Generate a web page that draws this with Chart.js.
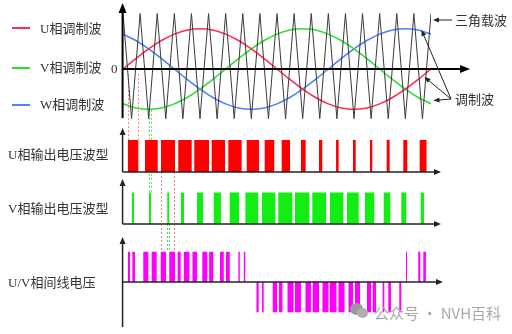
<!DOCTYPE html>
<html>
<head>
<meta charset="utf-8">
<script src="https://cdn.jsdelivr.net/npm/chart.js@4/dist/chart.umd.min.js"></script>
<style>
  body { margin: 0; background: #fff; }
  #wrap { position: relative; width: 512px; height: 334px; overflow: hidden; background: #fff; }
  #chart { position: absolute; left: 0; top: 0; }
  .lbl { position: absolute; font-family: "Liberation Serif", "Noto Sans CJK SC", serif; font-size: 13px;
         line-height: 20px; color: #333; white-space: nowrap; }
  .key { position: absolute; height: 0; width: 18px; border-top: 2px solid; }
  .mark { position: absolute; font-family: "Noto Sans CJK SC", sans-serif; font-size: 15px; line-height: 20px;
          color: #a8a8a8; white-space: nowrap; }
  .dot { position: absolute; border-radius: 50%; background: #9a9a9a; }
</style>
</head>
<body>
<div id="wrap">
  <canvas id="chart" width="512" height="334"></canvas>

  <div class="key" style="left:12px; top:27px; border-color:#ff2a55;"></div>
  <div class="lbl" style="left:40px; top:19px;">U相调制波</div>
  <div class="key" style="left:12px; top:67px; border-color:#2ee02e;"></div>
  <div class="lbl" style="left:40px; top:58px;">V相调制波</div>
  <div class="key" style="left:12px; top:104px; border-color:#4f7fff;"></div>
  <div class="lbl" style="left:40px; top:95px;">W相调制波</div>
  <div class="lbl" style="left:111px; top:59px;">0</div>

  <div class="lbl" style="left:455px; top:11px;">三角载波</div>
  <div class="lbl" style="left:455px; top:90px;">调制波</div>

  <div class="lbl" style="left:8px; top:145px;">U相输出电压波型</div>
  <div class="lbl" style="left:8px; top:199px;">V相输出电压波型</div>
  <div class="lbl" style="left:8px; top:273px;">U/V相间线电压</div>

  <div class="dot" style="left:350px; top:303px; width:13px; height:12px;"></div>
  <div class="dot" style="left:357px; top:308px; width:11px; height:10px; background:#b0b0b0;"></div>
  <div class="mark" style="left:374px; top:303px;">公众号 · NVH百科</div>
</div>

<script>
// Angles along the fundamental (degrees), shared by all panels
const waveAngles = [0, 15, 30, 45, 60, 75, 90, 105, 120, 135, 150, 165, 180,
                    195, 210, 225, 240, 255, 270, 285, 300, 315, 330, 345, 360];

// Modulating waves (in carrier units)
const uWave = [0, 0.199, 0.385, 0.544, 0.667, 0.744, 0.77, 0.744, 0.667, 0.544, 0.385, 0.199, 0,
               -0.199, -0.385, -0.544, -0.667, -0.744, -0.77, -0.744, -0.667, -0.544, -0.385, -0.199, 0];
const vWave = [-0.667, -0.744, -0.77, -0.744, -0.667, -0.544, -0.385, -0.199, 0, 0.199, 0.385, 0.544, 0.667,
               0.744, 0.77, 0.744, 0.667, 0.544, 0.385, 0.199, 0, -0.199, -0.385, -0.544, -0.667];
const wWave = [0.667, 0.544, 0.385, 0.199, 0, -0.199, -0.385, -0.544, -0.667, -0.744, -0.77, -0.744, -0.667,
               -0.544, -0.385, -0.199, 0, 0.199, 0.385, 0.544, 0.667, 0.744, 0.77, 0.744, 0.667];

// Triangle carrier: turning points
const carrierAngles = [0, 10, 20, 30, 40, 50, 60, 70, 80, 90, 100, 110, 120, 130, 140, 150, 160, 170, 180,
                       190, 200, 210, 220, 230, 240, 250, 260, 270, 280, 290, 300, 310, 320, 330, 340, 350, 360];
const carrierLevels = [1.06, -0.95, 1.06, -0.95, 1.06, -0.95, 1.06, -0.95, 1.06, -0.95, 1.06, -0.95, 1.06,
                       -0.95, 1.06, -0.95, 1.06, -0.95, 1.06, -0.95, 1.06, -0.95, 1.06, -0.95, 1.06, -0.95,
                       1.06, -0.95, 1.06, -0.95, 1.06, -0.95, 1.06, -0.95, 1.06, -0.95, 1.06];

// Output pulses [start, end] in degrees
const uPulses = [[5.5, 17.9], [25.7, 40.6], [44.4, 60.8], [64.6, 80.3], [83.3, 100.5], [103.7, 119.3],
                 [123.1, 138.7], [144.6, 159], [165.6, 176.8], [185.5, 195.2], [208, 213.5], [229.1, 232.9],
                 [249, 252.1], [268.8, 272], [288.7, 291.4], [308.2, 311.7], [327.6, 332.3], [346.8, 355]];
const vPulses = [[10.2, 12.9], [30.4, 32.7], [51.8, 54.1], [67.8, 71.3], [86.5, 93.5], [106, 114.5],
                 [124.7, 135.6], [143, 158.1], [162.5, 178], [181.5, 197.9], [201, 217.7], [221.3, 237.3],
                 [241.9, 257.5], [261.8, 275.5], [282.8, 293.7], [304.7, 312.4], [325.3, 331.1], [348, 351.8]];
const uvPositive = [[5.5, 8.2], [10.9, 14], [23.7, 29.6], [33.5, 39.4], [44.1, 50.3], [54.1, 60.8],
                    [63.9, 67.4], [71.1, 77.7], [81.2, 86.5], [92.7, 98.5], [100.7, 105.5], [113.4, 117.8],
                    [120.4, 124.8], [134.8, 136.5], [141.2, 142.9], [330.8, 332], [345.1, 347.5], [351, 354.1]];
const uvNegative = [[156, 158.6], [162.5, 164.4], [175, 180], [182.3, 186.4], [192.3, 199.3], [201, 208],
                    [213.3, 219.7], [221.7, 229.1], [233.2, 240.2], [241.9, 249.5], [251.9, 258.9],
                    [263.6, 268.8], [271.2, 277], [285.2, 289.9], [291.8, 295.7], [303.5, 305.4],
                    [310.1, 313.2], [322.9, 325.3]];

// Dashed guide lines (degrees)
const uGuide = [5.5, 17.9];
const vGuide = [30.4, 32.7];
const uvGuideU = [44.6, 59.8];
const uvGuideV = [51.8, 54.1];

const H = 334;
// each hidden y scale spans the whole canvas; pick min/max so its zero and unit land on the panel
function band(zeroPx, unitPx) {
    return { type: 'linear', display: false, min: -(H - zeroPx) / unitPx, max: zeroPx / unitPx };
}

function curve(values) {
    return waveAngles.map((a, i) => ({ x: a, y: values[i] }));
}

function pulsePoints(list, level) {
    const pts = [];
    list.forEach(([a, b]) => {
        pts.push({ x: a, y: 0 }, { x: a, y: level }, { x: b, y: level }, { x: b, y: 0 });
    });
    return pts;
}

const uvList = uvPositive.map(p => [p, 1]).concat(uvNegative.map(p => [p, -1]))
    .sort((a, b) => a[0][0] - b[0][0]);
const uvPoints = [];
uvList.forEach(([p, lv]) => uvPoints.push(...pulsePoints([p], lv)));

function arrowHead(ctx, x1, y1, x2, y2, len, half) {
    const ang = Math.atan2(y2 - y1, x2 - x1);
    ctx.beginPath();
    ctx.moveTo(x2, y2);
    ctx.lineTo(x2 - len * Math.cos(ang) + half * Math.sin(ang), y2 - len * Math.sin(ang) - half * Math.cos(ang));
    ctx.lineTo(x2 - len * Math.cos(ang) - half * Math.sin(ang), y2 - len * Math.sin(ang) + half * Math.cos(ang));
    ctx.closePath();
    ctx.fill();
}

function arrow(ctx, x1, y1, x2, y2, len, half) {
    const ang = Math.atan2(y2 - y1, x2 - x1);
    ctx.beginPath();
    ctx.moveTo(x1, y1);
    ctx.lineTo(x2 - len * 0.6 * Math.cos(ang), y2 - len * 0.6 * Math.sin(ang));
    ctx.stroke();
    arrowHead(ctx, x1, y1, x2, y2, len, half);
}

// axes for each panel
const panels = [
    { scale: 'yTop', yFrom: -0.94, yTo: 1.262, xTo: 405.6, width: 2, head: [10, 4], color: '#000' },
    { scale: 'yU', yFrom: 0, yTo: 1.375, xTo: 371.7, width: 1.5, head: [7, 3], color: '#222' },
    { scale: 'yV', yFrom: 0, yTo: 1.43, xTo: 371.7, width: 1.5, head: [7, 3], color: '#222' },
    { scale: 'yUV', yFrom: -1.485, yTo: 1.485, xTo: 374, width: 1.5, head: [7, 3], color: '#222' }
];

const guides = [
    { angles: uGuide, from: ['yTop', -0.1], to: ['yU', 1], color: '#ff8080' },
    { angles: vGuide, from: ['yTop', -0.78], to: ['yV', 1], color: '#5ee05e' },
    { angles: uvGuideU, from: ['yU', 0], to: ['yUV', 1], color: '#ff8080' },
    { angles: uvGuideV, from: ['yV', 0], to: ['yUV', 1], color: '#5ee05e' }
];

// callout arrows: [fromAngle, fromValue, toAngle, toValue] on the top panel
const callouts = [
    [384.5, 0.937, 362.3, 0.937],
    [383.4, -0.574, 348.9, 0.746],
    [383.4, -0.574, 352.4, -0.153],
    [383.4, -0.574, 362.9, -0.602]
];

const decorPlugin = {
    id: 'decor',
    beforeDatasetsDraw(chart) {
        const ctx = chart.ctx;
        const x = chart.scales.x;
        ctx.save();
        ctx.lineWidth = 1;
        ctx.setLineDash([2, 2]);
        guides.forEach(g => {
            ctx.strokeStyle = g.color;
            g.angles.forEach(a => {
                const px = Math.round(x.getPixelForValue(a)) + 0.5;
                ctx.beginPath();
                ctx.moveTo(px, chart.scales[g.from[0]].getPixelForValue(g.from[1]));
                ctx.lineTo(px, chart.scales[g.to[0]].getPixelForValue(g.to[1]));
                ctx.stroke();
            });
        });
        ctx.restore();
    },
    afterDatasetsDraw(chart) {
        const ctx = chart.ctx;
        const x = chart.scales.x;
        const x0 = x.getPixelForValue(-0.5);
        ctx.save();
        panels.forEach(p => {
            const y = chart.scales[p.scale];
            const y0 = y.getPixelForValue(0);
            ctx.strokeStyle = p.color;
            ctx.fillStyle = p.color;
            ctx.lineWidth = p.width;
            arrow(ctx, x0, y.getPixelForValue(p.yFrom), x0, y.getPixelForValue(p.yTo), p.head[0], p.head[1]);
            arrow(ctx, x0, y0, x.getPixelForValue(p.xTo), y0, p.head[0], p.head[1]);
        });
        const yt = chart.scales.yTop;
        ctx.strokeStyle = '#222';
        ctx.fillStyle = '#222';
        ctx.lineWidth = 1;
        callouts.forEach(c => {
            arrow(ctx, x.getPixelForValue(c[0]), yt.getPixelForValue(c[1]),
                  x.getPixelForValue(c[2]), yt.getPixelForValue(c[3]), 6, 2.5);
        });
        ctx.restore();
    }
};

const lineStyle = { pointRadius: 0, fill: false, cubicInterpolationMode: 'monotone', borderWidth: 1.6 };
const pulseStyle = { pointRadius: 0, borderWidth: 0, borderColor: 'rgba(0,0,0,0)', fill: 'origin', tension: 0 };

new Chart(document.getElementById('chart'), {
    type: 'line',
    data: {
        datasets: [
            { label: '三角载波', data: carrierAngles.map((a, i) => ({ x: a, y: carrierLevels[i] })),
              yAxisID: 'yTop', borderColor: '#3a3a3a', borderWidth: 1, pointRadius: 0, tension: 0, fill: false },
            { label: 'U相调制波', data: curve(uWave), yAxisID: 'yTop', borderColor: '#ff2a55', ...lineStyle },
            { label: 'V相调制波', data: curve(vWave), yAxisID: 'yTop', borderColor: '#2ee02e', ...lineStyle },
            { label: 'W相调制波', data: curve(wWave), yAxisID: 'yTop', borderColor: '#4f7fff', ...lineStyle },
            { label: 'U相输出电压波型', data: pulsePoints(uPulses, 1), yAxisID: 'yU',
              backgroundColor: '#ff0000', ...pulseStyle },
            { label: 'V相输出电压波型', data: pulsePoints(vPulses, 1), yAxisID: 'yV',
              backgroundColor: '#11ee11', ...pulseStyle },
            { label: 'U/V相间线电压', data: uvPoints, yAxisID: 'yUV',
              backgroundColor: '#ff00ff', ...pulseStyle }
        ]
    },
    options: {
        responsive: false,
        animation: false,
        devicePixelRatio: 1,
        layout: { padding: { left: 123, right: 81, top: 0, bottom: 0 } },
        plugins: { legend: { display: false }, tooltip: { enabled: false } },
        scales: {
            x: { type: 'linear', display: false, min: 0, max: 360 },
            yTop: band(69, 52.3),
            yU: band(172, 32),
            yV: band(224, 31.5),
            yUV: band(282, 30.3)
        }
    },
    plugins: [decorPlugin]
});
</script>
</body>
</html>
